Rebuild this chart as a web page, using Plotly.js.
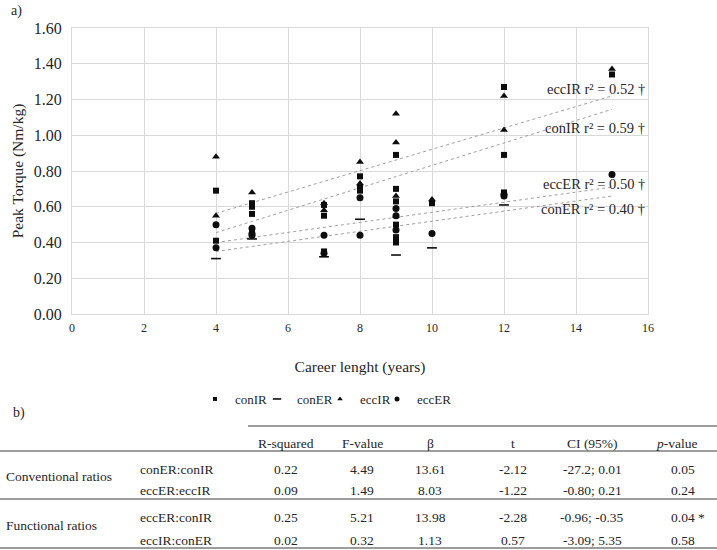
<!DOCTYPE html>
<html>
<head>
<meta charset="utf-8">
<script src="https://cdn.plot.ly/plotly-3.0.1.min.js"></script>
<style>
  html, body { margin: 0; padding: 0; background: #ffffff; }
  #chart { width: 717px; height: 550px; }
</style>
</head>
<body>
<div id="chart"></div>
<script>
// ---------------- Data ----------------
var conIR_x = [4, 4, 5, 5, 5, 5, 7, 7, 7, 8, 8, 8, 9, 9, 9, 9, 9, 9, 9, 10, 12, 12, 12, 15];
var conIR_y = [0.69, 0.41, 0.62, 0.60, 0.56, 0.46, 0.61, 0.55, 0.35, 0.77, 0.71, 0.69, 0.89, 0.70, 0.63, 0.50, 0.43, 0.41, 0.40, 0.62, 1.27, 0.89, 0.68, 1.34];

var conER_x = [4, 5, 7, 8, 9, 10, 12];
var conER_y = [0.31, 0.42, 0.32, 0.53, 0.33, 0.37, 0.61];

var eccIR_x = [4, 4, 5, 7, 7, 8, 8, 9, 9, 9, 9, 10, 12, 12, 15];
var eccIR_y = [0.88, 0.55, 0.68, 0.62, 0.58, 0.85, 0.73, 1.12, 0.96, 0.66, 0.55, 0.64, 1.22, 1.03, 1.37];

var eccER_x = [4, 4, 5, 5, 5, 7, 7, 8, 8, 9, 9, 9, 10, 12, 12, 15];
var eccER_y = [0.50, 0.37, 0.48, 0.45, 0.44, 0.44, 0.34, 0.65, 0.44, 0.59, 0.55, 0.47, 0.45, 0.67, 0.66, 0.78];

// Linear trend lines (end points)
var trendX = [4, 15];
var eccIR_fit = [0.563, 1.22];
var conIR_fit = [0.455, 1.145];
var eccER_fit = [0.40, 0.71];
var conER_fit = [0.35, 0.66];

var seriesNames = ['conIR', 'conER', 'eccIR', 'eccER'];
var fitNames = ['eccIR', 'conIR', 'eccER', 'conER'];
var fitR2 = ['0.52', '0.59', '0.50', '0.40'];
var fitLabelY = [1.257, 1.039, 0.726, 0.586];

// Table data
var tableHeaders = ['R-squared', 'F-value', 'β', 't', 'CI (95%)', '<i>p</i>-value'];
var tableGroups = ['Conventional ratios', 'Functional ratios'];
var tableRatios = ['conER:conIR', 'eccER:eccIR', 'eccER:conIR', 'eccIR:conER'];
var colRsq = ['0.22', '0.09', '0.25', '0.02'];
var colF = ['4.49', '1.49', '5.21', '0.32'];
var colBeta = ['13.61', '8.03', '13.98', '1.13'];
var colT = ['-2.12', '-1.22', '-2.28', '0.57'];
var colCI = ['-27.2; 0.01', '-0.80; 0.21', '-0.96; -0.35', '-3.09; 5.35'];
var colP = ['0.05', '0.24', '0.04 *', '0.58'];

// ---------------- Layout helpers ----------------
var W = 717, H = 550;
var ML = 72, MR = 69, MT = 28, MB = 236;
var PW = W - ML - MR, PH = H - MT - MB;
function px(x) { return (x - ML) / PW; }
function py(y) { return (H - MB - y) / PH; }

var FONT = '"Liberation Serif", "Times New Roman", Times, serif';
var TXT = '#262626';
var MK = '#0d0d0d';

var symbols = [
  { symbol: 'square', size: 6, color: MK },
  { symbol: 'line-ew', size: 7, color: MK, line: { color: MK, width: 1.6 } },
  { symbol: 'triangle-up', size: 7, color: MK },
  { symbol: 'circle', size: 7, color: MK }
];
var legendSymbols = [
  { symbol: 'square', size: 4, color: MK },
  { symbol: 'line-ew', size: 6, color: MK, line: { color: MK, width: 1.6 } },
  { symbol: 'triangle-up', size: 5, color: MK },
  { symbol: 'circle', size: 5, color: MK }
];
var xs = [conIR_x, conER_x, eccIR_x, eccER_x];
var ys = [conIR_y, conER_y, eccIR_y, eccER_y];
var legendIds = ['legend', 'legend2', 'legend3', 'legend4'];

var traces = [];
var fits = [eccIR_fit, conIR_fit, eccER_fit, conER_fit];
fits.forEach(function (f, i) {
  traces.push({ type: 'scatter', mode: 'lines', x: trendX, y: f, showlegend: false,
    hoverinfo: 'skip', name: fitNames[i] + ' fit',
    line: { color: '#a0a0a0', width: 1, dash: 'dot' } });
});
seriesNames.forEach(function (n, i) {
  traces.push({ type: 'scatter', mode: 'markers', name: n, x: xs[i], y: ys[i],
    marker: symbols[i], showlegend: false });
});
// legend entries (smaller symbols, like the reference legend), one legend box per entry
seriesNames.forEach(function (n, i) {
  traces.push({ type: 'scatter', mode: 'markers', name: n, x: [null], y: [null],
    marker: legendSymbols[i], showlegend: true, hoverinfo: 'skip', legend: legendIds[i] });
});

var annotations = [];
fitNames.forEach(function (n, i) {
  annotations.push({ xref: 'x', yref: 'y', x: 15.98, y: fitLabelY[i], xanchor: 'right', yanchor: 'middle',
    text: n + ' r² = ' + fitR2[i] + ' †', showarrow: false, font: { family: FONT, size: 14.5, color: TXT } });
});
annotations.push({ xref: 'paper', yref: 'paper', x: px(9), y: py(11), xanchor: 'left', yanchor: 'middle',
  text: 'a)', showarrow: false, font: { family: FONT, size: 14, color: TXT } });
annotations.push({ xref: 'paper', yref: 'paper', x: px(11), y: py(413), xanchor: 'left', yanchor: 'middle',
  text: 'b)', showarrow: false, font: { family: FONT, size: 14, color: TXT } });

var colCenters = [286, 362, 430, 513, 592, 676];
var headerY = 443;
var rowY = [469, 491, 517, 540];
var groupY = [476, 525];
var TF = { family: FONT, size: 13.5, color: TXT };
tableHeaders.forEach(function (h, i) {
  annotations.push({ xref: 'paper', yref: 'paper', x: px(colCenters[i]), y: py(headerY), xanchor: 'center', yanchor: 'middle',
    text: h, showarrow: false, font: TF });
});
tableGroups.forEach(function (g, i) {
  annotations.push({ xref: 'paper', yref: 'paper', x: px(4), y: py(groupY[i]), xanchor: 'left', yanchor: 'middle',
    text: g, showarrow: false, font: TF });
});
var cols = [colRsq, colF, colBeta, colT, colCI];
tableRatios.forEach(function (r, i) {
  annotations.push({ xref: 'paper', yref: 'paper', x: px(138), y: py(rowY[i]), xanchor: 'left', yanchor: 'middle',
    text: r, showarrow: false, font: TF });
  cols.forEach(function (c, j) {
    annotations.push({ xref: 'paper', yref: 'paper', x: px(colCenters[j]), y: py(rowY[i]), xanchor: 'center', yanchor: 'middle',
      text: c[i], showarrow: false, font: TF });
  });
  annotations.push({ xref: 'paper', yref: 'paper', x: px(669), y: py(rowY[i]), xanchor: 'left', yanchor: 'middle',
    text: colP[i], showarrow: false, font: TF });
});

function hline(x0, x1, y) {
  return { type: 'line', xref: 'paper', yref: 'paper', x0: px(x0), x1: px(x1), y0: py(y), y1: py(y),
    line: { color: '#3a3a3a', width: 1 } };
}
var shapes = [hline(248, 717, 426), hline(0, 717, 451), hline(0, 717, 499), hline(0, 717, 548)];

var layout = {
  width: W, height: H,
  margin: { l: ML, r: MR, t: MT, b: MB, pad: 0 },
  paper_bgcolor: '#ffffff', plot_bgcolor: '#ffffff',
  font: { family: FONT, color: TXT },
  showlegend: true,
  xaxis: {
    range: [0, 16], dtick: 2, tick0: 0, showgrid: true, gridcolor: '#d9d9d9', gridwidth: 1,
    zeroline: false, showline: true, mirror: true, linecolor: '#d9d9d9', linewidth: 1,
    ticks: '', ticklabelstandoff: 3, tickfont: { family: FONT, size: 12, color: TXT },
    title: { text: 'Career lenght (years)', font: { family: FONT, size: 15.5, color: TXT }, standoff: 26 },
    fixedrange: true, automargin: false
  },
  yaxis: {
    range: [0, 1.6], dtick: 0.2, tick0: 0, tickformat: '.2f', showgrid: true, gridcolor: '#d9d9d9', gridwidth: 1,
    zeroline: false, showline: true, mirror: true, linecolor: '#d9d9d9', linewidth: 1,
    ticks: '', ticklabelstandoff: 6, tickfont: { family: FONT, size: 16, color: TXT },
    title: { text: 'Peak Torque (Nm/kg)', font: { family: FONT, size: 15.5, color: TXT }, standoff: 6 },
    fixedrange: true, automargin: false
  },
  annotations: annotations,
  shapes: shapes
};
// one legend box per entry, placed where the reference shows each item
var legendSymbolX = [215, 277, 340, 397];
legendIds.forEach(function (id, i) {
  layout[id] = { orientation: 'h', x: px(legendSymbolX[i] - 20), xanchor: 'left', y: py(399), yanchor: 'middle',
    font: { family: FONT, size: 13, color: TXT }, bgcolor: 'rgba(0,0,0,0)', itemwidth: 30 };
});

Plotly.newPlot('chart', traces, layout, { displayModeBar: false, staticPlot: true });
</script>
</body>
</html>
